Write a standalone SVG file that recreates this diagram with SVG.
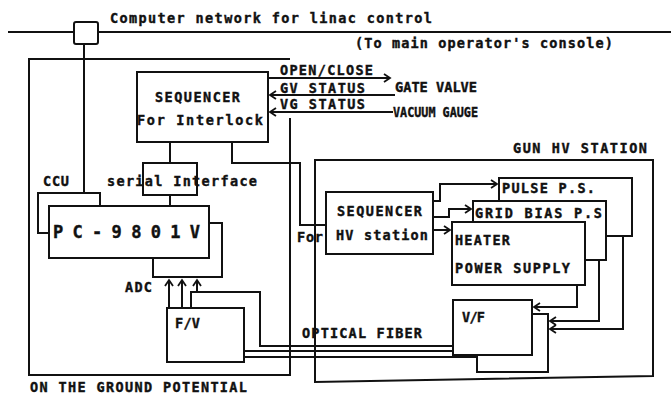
<svg xmlns="http://www.w3.org/2000/svg" width="671" height="394" viewBox="0 0 671 394">
<style>
.ln{fill:none;stroke:#111;stroke-width:2;stroke-linejoin:miter}
.bx{fill:#fff;stroke:#111;stroke-width:2}
.ob{fill:none;stroke:#111;stroke-width:2}
text{font-family:"DejaVu Sans Mono","Liberation Mono",monospace;font-weight:bold;font-size:13.5px;fill:#111;stroke:#111;stroke-width:0.4}
.big{font-size:17px}
</style>
<defs>
<marker id="ah" markerUnits="userSpaceOnUse" markerWidth="12" markerHeight="12" viewBox="-8 -6 10 12" refX="0" refY="0" orient="auto">
<path d="M-6,-4 L0,0 L-6,4" fill="none" stroke="#111" stroke-width="1.8"/>
</marker>
</defs>
<rect width="671" height="394" fill="#fff"/>
<g id="connectors">
<path class="ln" d="M8,32 H671"/>
<path class="ln" d="M84,44 V193"/>
<path class="ln" d="M100,206 V193 H38 V233 H49"/>
<path class="ln" d="M170,142 V163"/>
<path class="ln" d="M170,195 V206"/>
<path class="ln" d="M209,223 H222 V277 H153 V258"/>
<path class="ln" d="M268,78 H390" marker-end="url(#ah)"/>
<path class="ln" d="M395,95 H270" marker-end="url(#ah)"/>
<path class="ln" d="M393,112 H270" marker-end="url(#ah)"/>
<path class="ln" d="M232,142 V163 H300 V225 H326"/>
<path class="ln" d="M433,201 H440 V184 H497" marker-end="url(#ah)"/>
<path class="ln" d="M433,217 H449 V209 H471" marker-end="url(#ah)"/>
<path class="ln" d="M433,230 H450" marker-end="url(#ah)"/>
<path class="ln" d="M577,285 V307 H534" marker-end="url(#ah)"/>
<path class="ln" d="M599,260 V321 H550" marker-end="url(#ah)"/>
<path class="ln" d="M623,236 V329 H550" marker-end="url(#ah)"/>
<path class="ln" d="M169,308 V280" marker-end="url(#ah)"/>
<path class="ln" d="M182,308 V280" marker-end="url(#ah)"/>
<path class="ln" d="M191,308 V292 H260 V346 H453"/>
<path class="ln" d="M197,292 V280" marker-end="url(#ah)"/>
<path class="ln" d="M244,351 H453"/>
<path class="ln" d="M244,357 H477"/>
</g>
<g id="network-node">
<rect class="bx" x="74" y="22" width="24" height="22" rx="2"/>
<text x="110" y="23" textLength="322" lengthAdjust="spacing">Computer network for linac control</text>
<text x="355" y="48" textLength="258" lengthAdjust="spacing">(To main operator's console)</text>
</g>
<g id="ground-potential">
<path class="ob" d="M290,118 V375 H29 V59 H290"/>
<text x="30" y="392" textLength="217" lengthAdjust="spacing">ON THE GROUND POTENTIAL</text>
</g>
<g id="gun-hv-station">
<path class="ob" d="M315,160 H653 V376 L315,382 Z"/>
<text x="513" y="153" textLength="134" lengthAdjust="spacing">GUN HV STATION</text>
</g>
<g id="sequencer-interlock">
<rect class="bx" x="137" y="72" width="131" height="70"/>
<text x="155" y="102" textLength="85" lengthAdjust="spacing">SEQUENCER</text>
<text x="137" y="125" textLength="126" lengthAdjust="spacing">For Interlock</text>
</g>
<g id="signal-labels">
<text x="280" y="75" textLength="93" lengthAdjust="spacing">OPEN/CLOSE</text>
<text x="280" y="93" textLength="85" lengthAdjust="spacing">GV STATUS</text>
<text x="280" y="109" textLength="85" lengthAdjust="spacing">VG STATUS</text>
</g>
<g id="gate-valve">
<text x="395" y="92" textLength="82" lengthAdjust="spacingAndGlyphs">GATE VALVE</text>
</g>
<g id="vacuum-gauge">
<text x="393" y="117" textLength="85" lengthAdjust="spacingAndGlyphs">VACUUM GAUGE</text>
</g>
<g id="serial-interface">
<rect class="ob" x="143" y="163" width="54" height="32"/>
<text x="107" y="186" textLength="150" lengthAdjust="spacing">serial Interface</text>
</g>
<g id="ccu">
<text x="43" y="186" textLength="26" lengthAdjust="spacing">CCU</text>
</g>
<g id="pc-9801v">
<rect class="bx" x="49" y="206" width="160" height="52"/>
<text class="big" x="53" y="238" textLength="147" lengthAdjust="spacing">PC-9801V</text>
</g>
<g id="adc">
<text x="125" y="292" textLength="27" lengthAdjust="spacing">ADC</text>
</g>
<g id="fv">
<rect class="bx" x="167" y="308" width="77" height="54"/>
<text x="175" y="328" textLength="25" lengthAdjust="spacing">F/V</text>
</g>
<g id="optical-fiber">
<text x="302" y="338" textLength="120" lengthAdjust="spacing">OPTICAL FIBER</text>
</g>
<g id="sequencer-hv">
<rect class="bx" x="326" y="192" width="107" height="62"/>
<text x="337" y="216" textLength="85" lengthAdjust="spacing">SEQUENCER</text>
<text x="336" y="240" textLength="92" lengthAdjust="spacing">HV station</text>
<text x="297" y="242" textLength="26" lengthAdjust="spacing">For</text>
</g>
<g id="pulse-ps">
<rect class="bx" x="499" y="178" width="133" height="58"/>
<text x="502" y="193" textLength="93" lengthAdjust="spacing">PULSE P.S.</text>
</g>
<g id="grid-bias-ps">
<rect class="bx" x="473" y="201" width="133" height="59"/>
<text x="475" y="218" textLength="127" lengthAdjust="spacing">GRID BIAS P.S</text>
</g>
<g id="heater-ps">
<rect class="bx" x="452" y="222" width="133" height="63"/>
<text x="455" y="245" textLength="55" lengthAdjust="spacing">HEATER</text>
<text x="455" y="273" textLength="115" lengthAdjust="spacing">POWER SUPPLY</text>
</g>
<g id="vf">
<rect class="bx" x="477" y="314" width="71" height="58"/>
<rect class="bx" x="453" y="300" width="79" height="55"/>
<text x="462" y="322" textLength="23" lengthAdjust="spacing">V/F</text>
</g>
</svg>
